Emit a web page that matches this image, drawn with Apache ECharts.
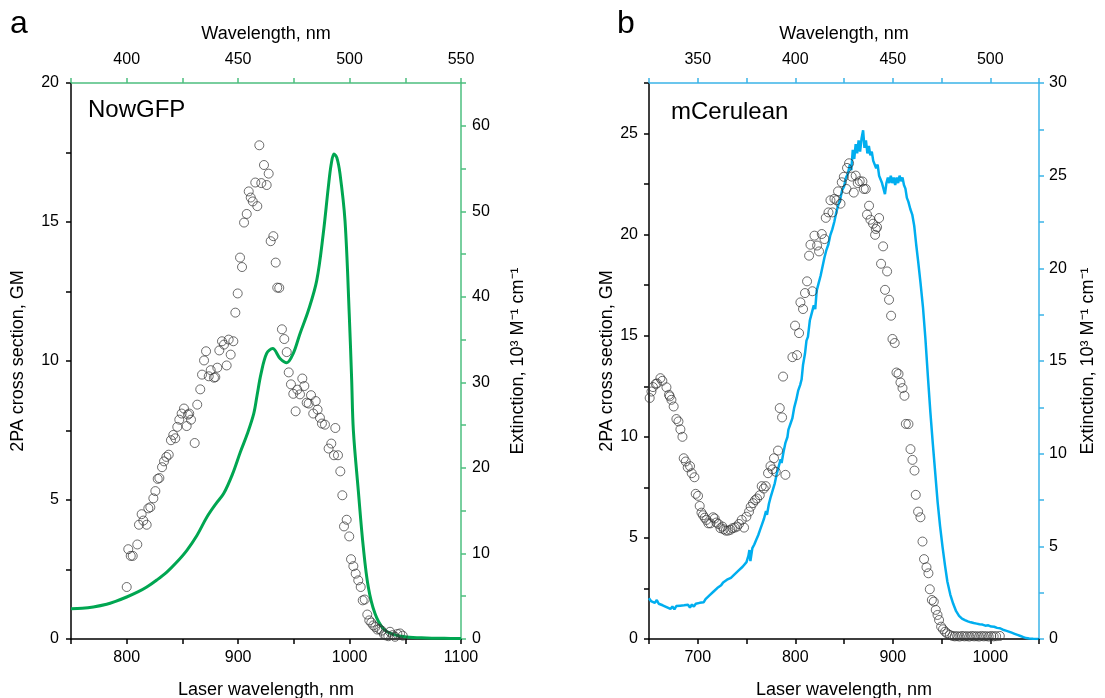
<!DOCTYPE html>
<html>
<head>
<meta charset="utf-8">
<script src="https://cdn.jsdelivr.net/npm/echarts@6/dist/echarts.min.js"></script>
<style>
  html, body { margin: 0; padding: 0; background: #fff; }
  #chart { width: 1105px; height: 698px; }
</style>
</head>
<body>
<div id="chart"></div>
<script>
// NowGFP: 2PA cross section (GM) vs laser wavelength
var gfpLaser = [800,801.4,803.6,805.4,809.5,811,813.4,814.9,817.9,819.4,821.2,823.9,825.7,827.8,829.3,831.7,833.5,835.6,837.7,839.7,
  841.8,843.6,845.4,847.2,849.3,851.4,853.8,855,856.1,857.7,861,863.3,866,867.6,869.4,871.2,873.6,875.4,878.3,879.5,
  881.3,883.1,885.5,887.3,889.7,891.5,893.3,895.7,897.5,899.6,901.7,903.5,905.3,907.7,909.5,911.3,913.1,915.4,917.2,919,
  920.8,923.2,925.6,927.4,929.2,931.6,933.7,935.1,936.9,939.3,941.4,943.6,945.4,947.4,949.5,951.6,953.1,955.5,957.6,959.4,
  961.5,963.3,965.4,967.4,969.6,971.3,973.4,975.2,977.9,981.2,983.6,986,987.2,989.6,991.7,993.5,995,997.4,999.7,1001.3,
  1003.4,1005.5,1007.8,1010,1011.8,1013.6,1015.9,1017.7,1019.5,1021.3,1023.1,1024.9,1026.7,1028.8,1030.9,1032.7,1034.8,1036.3,1038.7,1040.8,
  1042.9,1045.3,1047.7];
var gfpGM = [1.87,3.23,2.99,2.99,3.40,4.11,4.49,4.26,4.11,4.70,4.74,5.06,5.32,5.76,5.79,6.18,6.39,6.55,6.63,7.15,
  7.34,7.22,7.63,7.89,8.11,8.29,7.66,8.07,8.11,7.89,7.05,8.43,8.98,9.51,10.02,10.35,9.45,9.67,9.40,9.42,
  9.76,10.38,10.71,10.59,9.84,10.77,10.23,10.71,11.74,12.43,13.72,13.38,14.98,15.29,16.10,15.88,15.74,16.42,15.57,17.76,
  16.40,17.05,16.33,16.74,14.31,14.49,13.54,12.64,12.63,11.14,10.79,10.32,9.59,9.16,8.82,8.19,8.97,8.80,9.37,9.10,
  8.50,8.47,8.77,8.11,8.56,8.25,7.96,7.75,7.71,6.85,7.03,6.61,7.59,6.61,6.03,5.17,4.05,4.29,3.69,2.87,
  2.62,2.35,2.11,1.87,1.39,1.42,0.88,0.67,0.59,0.49,0.43,0.34,0.36,0.30,0.17,0.13,0.10,0.26,0.14,0.08,
  0.18,0.20,0.12];

// NowGFP: extinction (10^3 M-1 cm-1), laser wavelength = 2 x absorption wavelength
var gfpExtLaser = [750,760,770,782,790,800,810,818,827,836,845,854,863,872,880,887,895,902,908,914,
  917,920.5,925.6,931,937.6,943.6,949.5,955.5,963,970.5,976.4,980.9,983.5,986,988.5,991.4,995.9,999.7,1001.9,1003.4,
  1007.8,1012.3,1016.8,1022.8,1030.3,1039.3,1051.3,1069,1085,1100];
var gfpExt = [3.55,3.6,3.75,4.06,4.4,4.91,5.5,6.08,6.9,7.83,9.0,10.37,12.1,14.26,15.8,17.0,19.3,21.86,23.9,26.35,
  28.5,31.0,33.4,33.95,32.8,32.3,33.4,35.7,38.4,41.9,47.4,52.8,55.5,56.7,56.3,54.4,48.9,38.0,30.2,24.4,
  17.4,10.76,6.08,2.97,1.21,0.55,0.23,0.12,0.08,0.05];

// mCerulean: 2PA cross section (GM)
var ceruLaser = [650.7,652.5,654.1,656.9,658.2,661.7,663.7,667.9,670.5,671.3,673,675.3,678.1,680.2,682.2,684.3,685.6,687.7,689.7,692.1,
  693.8,696.6,697.9,700.3,702,703.8,705.4,707.1,708.9,710.9,713,715.7,717.4,719.1,721.2,723.3,725.3,726.6,728.7,731,
  733.5,735.6,737.9,740.3,742.3,745.1,747.5,749.9,752.6,754.3,756.7,758.8,760.8,763.6,765.6,767.7,769.7,772.1,774.6,776.6,
  778.2,780,782.3,784.1,786.5,789.9,787.5,797.1,801.8,799.8,803.9,805.3,808,810,812.1,817.6,814.2,815.6,819.7,822.4,
  824.4,827.2,830,831.3,834.1,836.1,838.2,840.2,842.3,843.9,846.4,847.7,849.8,852.5,853.1,855.2,857.9,860,862,864.1,
  866.1,868.9,870.3,872.3,875.7,873.6,877.1,879.8,882.6,886,883.9,881.9,890.1,888,894.2,892.1,896.2,898.3,899.7,902,
  903.8,905.9,907.9,910,912,913.4,916.1,918.2,920.2,922.3,923.6,926,928.4,930.5,932.1,934.6,936.6,938,940.1,942.1,
  944.1,945.9,947.5,949.6,951.6,953.7,955.7,958.5,961.3,963.6,966,968.5,971,973.5,976,978.5,981,983.5,986,988.5,
  991,993.5,996,998.5,1001,1003.5,1006,1009.8];
var ceruGM = [11.92,12.24,12.46,12.62,12.64,12.90,12.77,12.45,12.08,12.00,11.83,11.50,10.88,10.76,10.37,10.00,8.94,8.78,8.49,8.55,
  8.20,8.00,7.18,7.08,6.58,6.25,6.12,6.00,5.89,5.72,5.72,6.02,5.96,5.76,5.69,5.48,5.56,5.43,5.36,5.36,
  5.40,5.48,5.51,5.56,5.69,5.89,5.51,6.05,6.30,6.54,6.72,6.87,6.95,7.11,7.56,7.44,7.56,8.20,8.55,8.39,
  8.94,8.27,9.32,11.42,10.96,8.12,12.98,13.94,14.04,15.50,15.13,16.65,16.32,17.11,17.69,17.20,18.96,19.50,19.95,19.46,
  19.17,20.03,19.78,20.83,21.10,21.70,21.10,21.77,21.70,22.14,21.53,22.59,22.86,22.26,23.30,23.53,22.87,22.08,22.92,22.55,
  22.64,22.63,22.26,22.26,21.43,20.99,20.74,20.54,20.28,20.82,20.37,19.99,19.42,18.56,18.18,17.27,16.78,15.99,14.84,14.64,
  13.18,13.11,12.69,12.41,12.03,10.64,10.63,9.39,8.86,8.33,7.13,6.30,6.02,4.82,3.95,3.55,3.25,2.46,1.93,1.85,
  1.44,1.19,0.94,0.61,0.48,0.36,0.28,0.20,0.15,0.13,0.14,0.12,0.15,0.13,0.14,0.12,0.15,0.13,0.14,0.12,
  0.15,0.13,0.14,0.12,0.15,0.13,0.14,0.15];

// mCerulean: extinction (10^3 M-1 cm-1), noisy trace
var ceruExtLaser = [650,652,654,656,658,660,662,664,666,668,670,672,674,676,678,680,682,684,686,688,
  690,692,694,696,698,700,702,704,706,708,710,712,714,716,718,720,722,724,726,728,
  730,732,734,736,738,740,742,744,746,748,750,752,753,754,756,758,760,762,764,766,
  768,770,771,773,775,777,779,781,783,785,786,788,790,792,793,795,797,799,801,803,
  805,806.5,808,810,811.5,813,815,817,819,820.5,822,824,826,828,830,832,834,836,838,840,
  842,844,846,848,850,852,854,856,857.5,859,860.5,862,863.5,865,866.5,868,869.6,871,872.5,874,
  875.5,877,878.5,880,881.5,883,884.5,886,887.5,889,890.5,892,893.5,895,896.5,898,899.5,901,902.5,904,
  905.5,907,908.5,910,911.5,913,914.5,916,918,920,922,924,926,928.5,931,933.5,936,938.5,941,943.5,
  946,948.5,951,953.5,956,959,962,965,968,971,974,977,980,983,986,989,992,995,998,1001,
  1004,1007,1010,1013,1016,1019,1022,1025,1028,1031,1034,1037,1040,1044,1049.5];
var ceruExt = [2.2,2.05,2.15,1.95,2.1,1.9,2.0,1.82,1.88,1.72,1.8,1.62,1.75,1.6,1.78,1.68,1.8,1.7,1.82,1.72,
  1.85,1.7,1.86,1.75,1.9,1.8,1.95,2.0,1.98,2.15,2.2,2.35,2.4,2.55,2.6,2.75,2.85,2.9,3.05,3.05,
  3.2,3.25,3.3,3.4,3.5,3.6,3.7,3.8,3.9,4.0,4.15,4.5,4.8,4.2,4.9,5.1,5.35,5.6,5.9,6.2,
  6.5,6.9,6.7,7.3,7.7,8.05,8.4,8.9,9.3,9.7,9.5,10.1,10.6,10.9,11.3,11.6,11.9,12.5,12.9,13.4,
  13.7,14.0,14.8,15.4,16.1,16.3,17.2,17.6,18.0,17.8,18.8,19.2,19.6,20.1,20.6,21.0,21.3,21.8,22.1,22.5,
  23.0,23.4,23.7,24.2,24.4,24.9,25.1,25.6,25.3,26.4,25.9,26.7,26.2,26.9,26.3,27.0,27.45,26.5,26.9,26.2,
  26.6,26.1,26.3,25.8,25.9,25.4,25.6,25.0,25.1,24.6,24.5,24.0,24.6,24.9,24.6,25.0,24.6,24.9,24.5,24.9,
  24.6,25.0,24.7,24.9,24.5,24.3,23.8,23.6,23.2,22.9,22.3,21.3,20.4,19.2,17.9,16.2,14.2,12.3,10.6,9.0,
  7.4,6.1,5.0,4.0,3.1,2.4,1.9,1.5,1.25,1.1,1.02,0.95,0.9,0.86,0.83,0.8,0.78,0.72,0.74,0.67,
  0.66,0.6,0.58,0.5,0.45,0.4,0.34,0.28,0.22,0.16,0.1,0.05,0.03,0.01,0];

function zip(xs, ys) {
  var out = [];
  for (var i = 0; i < xs.length; i++) out.push([xs[i], ys[i]]);
  return out;
}

var FONT = 'Liberation Sans, Arial, sans-serif';
var GREEN = '#00a651', GREEN_AX = '#4dbf7f';
var BLUE = '#00aeef', BLUE_AX = '#3bb4e8';

// only label the ticks that fall on a multiple of step
function every(step) {
  return function (v) {
    var r = Math.abs(v % step);
    return (r < 1e-6 || Math.abs(r - step) < 1e-6) ? String(v) : '';
  };
}

function axis(opt) {
  var color = opt.color || '#000';
  return {
    type: 'value',
    gridIndex: opt.grid,
    position: opt.position,
    min: opt.min, max: opt.max, interval: opt.interval,
    name: opt.name,
    nameLocation: 'middle',
    nameGap: opt.nameGap,
    nameRotate: opt.nameRotate,
    nameTextStyle: { fontFamily: FONT, fontSize: 18, color: '#000' },
    axisLine: { show: true, onZero: false, lineStyle: { color: color, width: 1.5 } },
    axisTick: { show: true, length: 5, lineStyle: { color: color, width: 1.5 } },
    axisLabel: { fontFamily: FONT, fontSize: 16, color: '#000', margin: opt.margin, formatter: every(opt.labelStep) },
    splitLine: { show: false }
  };
}

var option = {
  animation: false,
  backgroundColor: '#fff',
  graphic: [
    { type: 'text', left: 10, top: 8, style: { text: 'a', fontFamily: FONT, fontSize: 32, fill: '#000' } },
    { type: 'text', left: 617, top: 8, style: { text: 'b', fontFamily: FONT, fontSize: 32, fill: '#000' } },
    { type: 'text', left: 88, top: 98, style: { text: 'NowGFP', fontFamily: FONT, fontSize: 24, fill: '#000' } },
    { type: 'text', left: 671, top: 100, style: { text: 'mCerulean', fontFamily: FONT, fontSize: 24, fill: '#000' } }
  ],
  grid: [
    { left: 71, top: 83, right: 644, bottom: 59, outerBoundsMode: 'none' },
    { left: 649, top: 83, right: 66, bottom: 59, outerBoundsMode: 'none' }
  ],
  xAxis: [
    axis({ grid: 0, position: 'bottom', min: 750, max: 1100, interval: 50, labelStep: 100,
      name: 'Laser wavelength, nm', nameGap: 42, margin: 11 }),
    axis({ grid: 0, position: 'top', min: 375, max: 550, interval: 25, labelStep: 50, color: GREEN_AX,
      name: 'Wavelength, nm', nameGap: 40, margin: 15 }),
    axis({ grid: 1, position: 'bottom', min: 650, max: 1050, interval: 50, labelStep: 100,
      name: 'Laser wavelength, nm', nameGap: 42, margin: 11 }),
    axis({ grid: 1, position: 'top', min: 325, max: 525, interval: 25, labelStep: 50, color: BLUE_AX,
      name: 'Wavelength, nm', nameGap: 40, margin: 15 })
  ],
  yAxis: [
    axis({ grid: 0, position: 'left', min: 0, max: 20, interval: 2.5, labelStep: 5,
      name: '2PA cross section, GM', nameGap: 44, nameRotate: 90, margin: 12 }),
    axis({ grid: 0, position: 'right', min: 0, max: 65, interval: 5, labelStep: 10, color: GREEN_AX,
      name: 'Extinction, 10³ M⁻¹ cm⁻¹', nameGap: 48, nameRotate: 90, margin: 11 }),
    axis({ grid: 1, position: 'left', min: 0, max: 27.5, interval: 2.5, labelStep: 5,
      name: '2PA cross section, GM', nameGap: 28, nameRotate: 90, margin: 11 }),
    axis({ grid: 1, position: 'right', min: 0, max: 30, interval: 2.5, labelStep: 5, color: BLUE_AX,
      name: 'Extinction, 10³ M⁻¹ cm⁻¹', nameGap: 40, nameRotate: 90, margin: 10 })
  ],
  series: [
    {
      type: 'line', xAxisIndex: 0, yAxisIndex: 1, data: zip(gfpExtLaser, gfpExt),
      showSymbol: false, smooth: 0.35, lineStyle: { color: GREEN, width: 3 }, z: 2
    },
    {
      type: 'scatter', xAxisIndex: 0, yAxisIndex: 0, data: zip(gfpLaser, gfpGM),
      symbol: 'circle', symbolSize: 9,
      itemStyle: { color: 'rgba(255,255,255,0)', borderColor: '#333', borderWidth: 0.9 }, z: 3
    },
    {
      type: 'line', xAxisIndex: 2, yAxisIndex: 3, data: zip(ceruExtLaser, ceruExt),
      showSymbol: false, lineStyle: { color: BLUE, width: 2.5 }, z: 2
    },
    {
      type: 'scatter', xAxisIndex: 2, yAxisIndex: 2, data: zip(ceruLaser, ceruGM),
      symbol: 'circle', symbolSize: 9,
      itemStyle: { color: 'rgba(255,255,255,0)', borderColor: '#333', borderWidth: 0.9 }, z: 3
    }
  ]
};

var chart = echarts.init(document.getElementById('chart'));
chart.setOption(option);
</script>
</body>
</html>
